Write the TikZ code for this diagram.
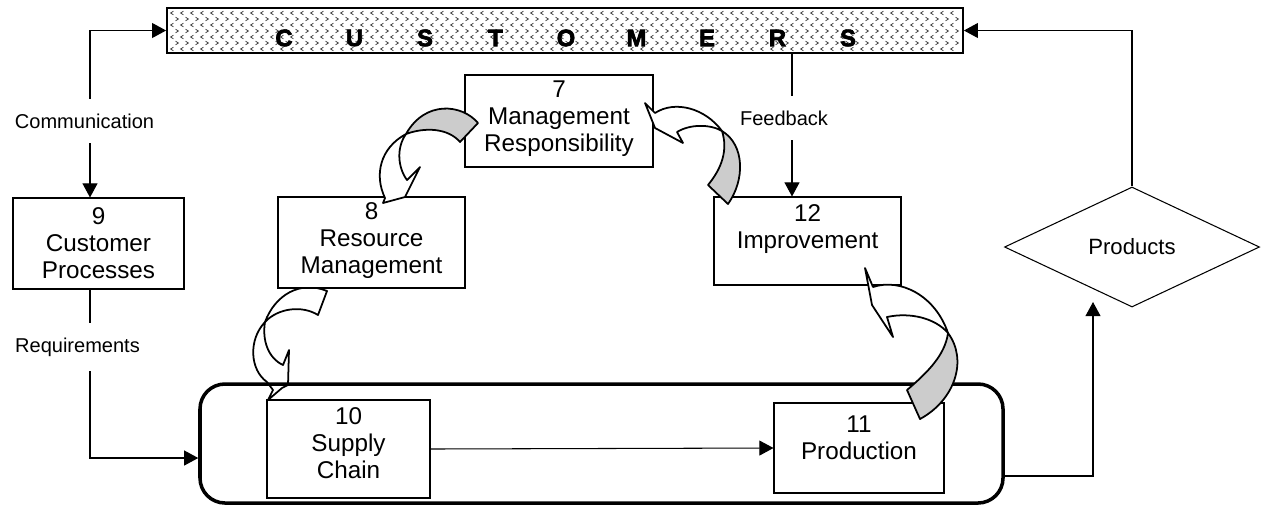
\documentclass[tikz,border=0pt]{standalone}
\usepackage{fontspec}
\setmainfont{Liberation Sans}
\newfontfamily\heavyfont[FakeBold=3]{Liberation Sans}
\usetikzlibrary{arrows.meta, shapes.geometric, positioning}

\newcommand{\pxu}{0.02cm}

\tikzset{
  box/.style={draw, fill=white, line width=0.6pt, inner sep=0pt},
  boxtext/.style={align=center, inner sep=0pt, font=\fontsize{13.8}{15.3}\selectfont},
  flowlabel/.style={fill=white, inner xsep=1pt, inner ysep=8.5pt, font=\fontsize{11.4}{13}\selectfont},
  flow/.style={line width=0.6pt, -{Triangle[length=8pt, width=8.5pt]}},
  chev/.style={line width=0.4pt, black!80},
  twist/.style={draw, line width=1pt, line join=round, fill=white},
  twistback/.style={twist, fill=gray!40},
}

\begin{document}
\begin{tikzpicture}[x=\pxu, y=-\pxu]
\useasboundingbox (0,0) rectangle (1263,505);

% customers band with chevron fill
\node[draw, line width=1pt, minimum width=796*\pxu, minimum height=45*\pxu, inner sep=0pt] (cust) at (565,30.5) {};
\foreach \row in {0,...,6}{
  \pgfmathsetmacro{\yy}{13+6*\row}
  \ifodd\row \def\dx{1.4}\def\off{5}\else \def\dx{-1.4}\def\off{0}\fi
  \foreach \col in {0,...,78}{
    \pgfmathsetmacro{\xx}{172+10*\col+\off}
    \draw[chev] (\xx-\dx,\yy-1.8) -- (\xx+\dx,\yy) -- (\xx-\dx,\yy+1.8);
  }
}
\foreach \ch [count=\i from 0] in {C,U,S,T,O,M,E,R,S}
  \node[font=\heavyfont\bfseries\fontsize{13.5}{15}\selectfont, inner sep=0pt] (cl\i) at (284+70.5*\i,38) {\ch};

% 8 -> 10 (under the container line)
\draw[twist] (327,291) .. controls (300,280) and (275,295) .. (265,322) .. controls (278,308) and (302,305) .. (318,315) -- cycle;
\draw[twist] (265,322) .. controls (248,340) and (250,370) .. (267,382) -- (273,390) -- (268,400) -- (282,388) -- (288,385) -- (289,350) -- (283,365) .. controls (268,358) and (262,340) .. (265,322) -- cycle;

% container for supply chain and production
\node[draw, line width=2pt, rounded corners=0.5cm, minimum width=803*\pxu, minimum height=119*\pxu] (plant) at (601.5,443.5) {};

% process boxes
\node[box, minimum width=188*\pxu, minimum height=92*\pxu] (mgmt) at (559,121) {};
\node[boxtext, below=0.12cm of mgmt.north] (mgmt-t) {7\\Management\\Responsibility};

\node[box, minimum width=187*\pxu, minimum height=91*\pxu] (resm) at (371.5,242.5) {};
\node[boxtext, below=0.12cm of resm.north] (resm-t) {8\\Resource\\Management};

\node[box, minimum width=171*\pxu, minimum height=91*\pxu] (care) at (98.5,243.5) {};
\node[boxtext, below=0.2cm of care.north] (care-t) {9\\Customer\\Processes};

\node[box, minimum width=187*\pxu, minimum height=88*\pxu] (impr) at (807.5,241) {};
\node[boxtext, below=0.16cm of impr.north] (impr-t) {12\\Improvement};

\node[box, minimum width=163*\pxu, minimum height=98*\pxu] (supp) at (348.5,449) {};
\node[boxtext, below=0.16cm of supp.north] (supp-t) {10\\Supply\\Chain};

\node[box, minimum width=170*\pxu, minimum height=90*\pxu] (made) at (859,448) {};
\node[boxtext, below=0.26cm of made.north] (made-t) {11\\Production};

\node[draw, diamond, line width=0.6pt, minimum width=255*\pxu, minimum height=120*\pxu, inner sep=0pt, font=\fontsize{12.6}{14}\selectfont] (prod) at (1132,247) {Products};

% straight flows
\draw[flow, {Triangle[length=8pt, width=8.5pt]}-{Triangle[length=8pt, width=8.5pt]}] (cust.west) -| (care.north -| 90,0);
\draw[flow] (care.south -| 90,0) |- (plant.west |- 0,458);
\draw[flow] (cust.south -| 792,0) -- (impr.north -| 792,0);
\draw[flow] (supp.east) -- (made.west);
\draw[flow] (plant.east |- 0,476) -| (1093,302);
\draw[flow] (prod.north) |- (cust.east);

\node[flowlabel] (comm) at (84.5,121) {Communication};
\node[flowlabel] (reqs) at (77.5,347) {Requirements};
\node[flowlabel] (fdbk) at (784,118) {Feedback};

% 7 -> 8
\draw[twist] (406,134) .. controls (380,148) and (374,175) .. (385,198) -- (383,203) -- (405,197) -- (420,167) -- (407,180) .. controls (398,168) and (396,148) .. (406,134) -- cycle;
\draw[twistback] (478,123) .. controls (462,104) and (425,100) .. (406,134) .. controls (425,127) and (448,128) .. (460,142) -- cycle;

% 12 -> 7
\draw[twist] (722,131) .. controls (705,108) and (675,100) .. (655,113) -- (645,103) -- (655,128) -- (683,143) -- (677,132) .. controls (690,124) and (710,124) .. (722,131) -- cycle;
\draw[twistback] (708,185) -- (728,204) .. controls (745,180) and (745,145) .. (722,131) .. controls (728,150) and (722,168) .. (708,185) -- cycle;

% 11 -> 12
\draw[twist] (948,333) .. controls (935,295) and (900,278) .. (873,287) -- (865,268) -- (872,305) -- (893,337) -- (887,317) .. controls (910,312) and (935,318) .. (948,333) -- cycle;
\draw[twistback] (907,390) -- (920,419) .. controls (955,400) and (968,360) .. (948,333) .. controls (945,355) and (928,372) .. (907,390) -- cycle;
\end{tikzpicture}
\end{document}
